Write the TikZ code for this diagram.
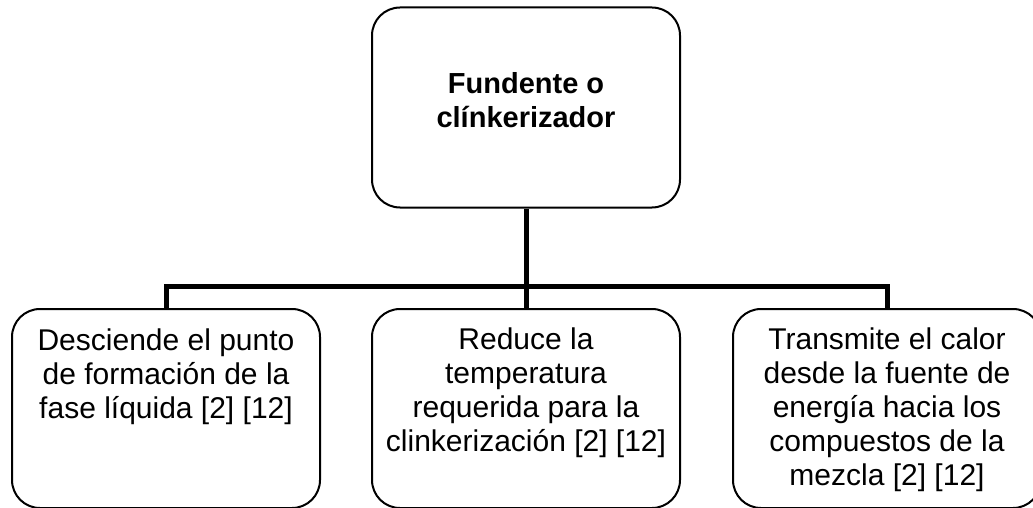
\documentclass[tikz,border=0pt]{standalone}
\usepackage{fontspec}
\setmainfont{Liberation Sans}
\usetikzlibrary{positioning}

\begin{document}
\begin{tikzpicture}[x=1pt,y=-1pt,
    caja/.style={draw, line width=2pt, rounded corners=28pt, inner sep=0pt,
      font=\fontsize{30pt}{34pt}\selectfont},
    conector/.style={line width=5pt, line join=miter}]
      \def\ancho{308pt}
      \def\alto{199pt}

      \useasboundingbox (0,0) rectangle (1033,508);

      % caja superior
      \node[caja,font=\fontsize{29pt}{34pt}\selectfont\bfseries] (fundente) at (526,107.5)
            {\parbox[c][200pt][t]{\ancho}{\centering
             \rule{0pt}{86pt}Fundente o\\ clínkerizador}};

      % cajas inferiores
      \node[caja,anchor=north] (desciende) at (166,308)
            {\parbox[c][\alto][t]{\ancho}{\centering
             \rule{0pt}{41pt}Desciende el punto\\ de formación de la\\
             fase líquida [2] [12]}};

      \node[caja,anchor=north] (reduce) at (526,308)
            {\parbox[c][\alto][t]{\ancho}{\centering
             \rule{0pt}{40pt}Reduce la\\ temperatura\\ requerida para la\\
             clinkerización [2] [12]}};

      \node[caja,anchor=north] (transmite) at (887,308)
            {\parbox[c][\alto][t]{\ancho}{\centering
             \rule{0pt}{40pt}Transmite el calor\\ desde la fuente de\\
             energía hacia los\\ compuestos de la\\ mezcla [2] [12]}};

      % ramas
      \coordinate (rama) at (526,286.5);
      \draw[conector] (fundente.south) -- (rama);
      \draw[conector] (rama) -- (reduce.north);
      \draw[conector] (desciende.north) |- (rama) -| (transmite.north);
\end{tikzpicture}
\end{document}
